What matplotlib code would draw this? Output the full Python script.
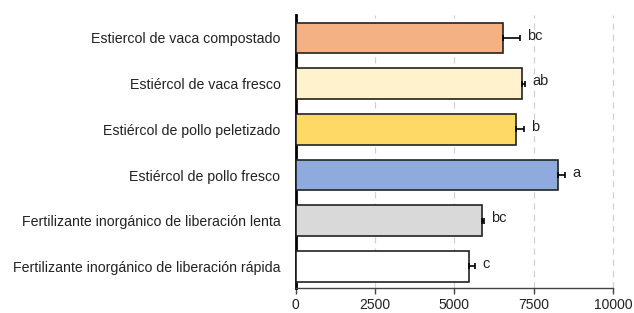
import matplotlib
matplotlib.use("Agg")
import matplotlib.pyplot as plt

categories = [
    "Fertilizante inorgánico de liberación rápida",
    "Fertilizante inorgánico de liberación lenta",
    "Estiércol de pollo fresco",
    "Estiércol de pollo peletizado",
    "Estiércol de vaca fresco",
    "Estiercol de vaca compostado",
]
values = [5470, 5880, 8270, 6930, 7120, 6520]
errors = [180, 50, 230, 260, 100, 540]
letters = ["c", "bc", "a", "b", "ab", "bc"]
colors = ["#FFFFFF", "#D9D9D9", "#8FAADC", "#FFD966", "#FFF2CC", "#F4B183"]
xticks = [0, 2500, 5000, 7500, 10000]

plt.rcParams["font.family"] = ["Liberation Sans", "DejaVu Sans"]

fig = plt.figure(figsize=(6.34, 3.13), dpi=100)
ax = fig.add_axes([0.4664, 0.08, 0.967 - 0.4664, 0.872])

y = list(range(len(categories)))
ax.barh(y, values, height=0.67, color=colors, edgecolor="#222222", linewidth=1.2, zorder=3)
ax.errorbar(values, y, xerr=[[0] * len(errors), errors], fmt="none", ecolor="black",
            elinewidth=1.2, capsize=2.5, capthick=1.2, zorder=4)
for yi, v, e, l in zip(y, values, errors, letters):
    ax.text(v + e + 230, yi + 0.05, l, va="center", ha="left", fontsize=10.5, color="#222222")

ax.set_xlim(0, 10000)
ax.set_ylim(-0.47, 5.5)
ax.set_xticks(xticks)
ax.set_xticklabels([str(t) for t in xticks], fontsize=10, color="#222222")
ax.set_yticks(y)
ax.set_yticklabels(categories, fontsize=10.2, color="#222222")
ax.tick_params(axis="y", length=0, pad=11)
ax.tick_params(axis="x", length=4, width=1, direction="out", color="#444444", pad=3)

ax.grid(axis="x", linestyle=(0, (5, 4)), color="#D0D0D0", linewidth=0.9, zorder=0)
for gl in ax.get_xgridlines():
    gl.set_clip_on(False)
for s in ["top", "right"]:
    ax.spines[s].set_visible(False)
ax.spines["left"].set_linewidth(2)
ax.spines["left"].set_color("black")
ax.spines["bottom"].set_linewidth(1)
ax.spines["bottom"].set_color("#444444")

fig.savefig("out.png", dpi=100)
